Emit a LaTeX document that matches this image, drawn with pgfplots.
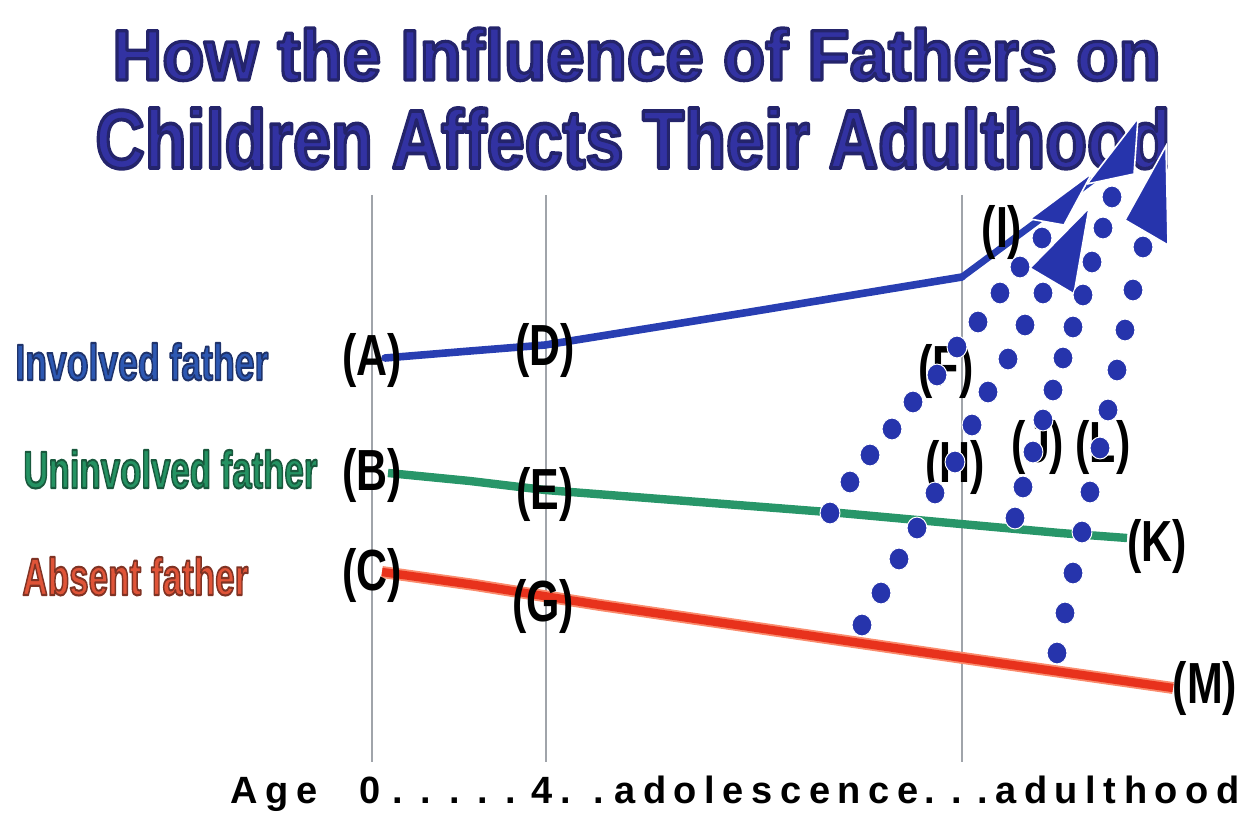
\documentclass[border=0pt]{standalone}
\usepackage{fontspec}
\setmainfont{Liberation Sans}
\newfontfamily\wide{Liberation Sans}[LetterSpace=20]
\usepackage{graphicx}
\usepackage{pgfplots}
\pgfplotsset{compat=1.18}
\newlength\px \setlength\px{0.5bp}
\newcommand\thick[3]{\special{pdf:literal direct 2 Tr #1 w 1 j #2 RG}#3\special{pdf:literal direct 0 Tr}}
\definecolor{titleblue}{RGB}{50,50,162}
\definecolor{lineblue}{RGB}{40,62,178}
\definecolor{dotblue}{RGB}{38,52,172}
\definecolor{linegreen}{RGB}{40,150,105}
\definecolor{linered}{RGB}{232,50,28}
\definecolor{redglow}{RGB}{250,140,110}
\definecolor{labblue}{RGB}{45,88,178}
\definecolor{labgreen}{RGB}{36,146,98}
\definecolor{labred}{RGB}{224,84,56}
\definecolor{vgrey}{RGB}{160,164,170}
\newcommand\lbl[1]{\scalebox{0.74}[1.0]{\fontsize{29bp}{31bp}\selectfont\bfseries(#1)}}
\begin{document}
\begin{tikzpicture}
\begin{axis}[width=628bp,height=406.5bp,scale only axis,
  xmin=0,xmax=1256,ymin=0,ymax=813,y dir=reverse,hide axis,clip=false]
% title
\node[anchor=base west,inner sep=0,text=titleblue] at (axis cs:112,80) {\resizebox{1048\px}{52\px}{\bfseries\thick{0.45}{0.14 0.14 0.42}{How the Influence of Fathers on}}};
\node[anchor=base west,inner sep=0,text=titleblue] at (axis cs:95,168) {\resizebox{1075\px}{60\px}{\bfseries\thick{0.45}{0.14 0.14 0.42}{Children Affects Their Adulthood}}};
% vertical guide lines
\addplot[vgrey,line width=1bp] coordinates {(372,195) (372,762)};
\addplot[vgrey,line width=1bp] coordinates {(546,195) (546,762)};
\addplot[vgrey,line width=1bp] coordinates {(962,195) (962,762)};
% involved father line
\addplot[lineblue,line width=3.8bp,line cap=round] coordinates {(385,358) (470,351) (545,345) (750,312) (962,277)};
\addplot[lineblue,line width=3.4bp] coordinates {(962,277) (1093,180)};
% uninvolved
\addplot[linegreen,line width=4.2bp] coordinates {(388,473) (470,481) (545,490) (840,513) (1060,533) (1127,538)};
% absent
\addplot[redglow,line width=6bp] coordinates {(382,572) (475,585) (600,605) (963,658) (1173,688)};
\addplot[linered,line width=4.2bp] coordinates {(382,572) (475,585) (600,605) (963,658) (1173,688)};
% dotted paths
\pgfplotsset{dotpath/.style={only marks,mark=*,mark size=5pt,color=dotblue,mark options={draw=white,line width=0.5bp,yscale=1.1}}}
\addplot[dotpath] coordinates {
(830,513) (850,482) (870,455) (892,429) (913,402) (937,375) (957,347) (978,322) (1000,293) (1020,267) (1042,238)};
\addplot[dotpath] coordinates {
(862,625) (881,593) (899,559) (917,528) (935,493) (955,462) (972,425) (988,392) (1008,359) (1025,325) (1043,293)};
\addplot[dotpath] coordinates {
(1015,518) (1023,487) (1033,452) (1043,420) (1053,390) (1063,358) (1073,327) (1083,295) (1092,262) (1103,228) (1112,197)};
\addplot[dotpath] coordinates {
(1057,653) (1065,613) (1073,573) (1082,532) (1090,492) (1100,448) (1108,410) (1117,370) (1125,330) (1133,290) (1143,247)};
% arrowheads
\addplot[fill=dotblue,draw=white,line width=0.8bp] coordinates {(1030,219) (1092,173) (1064,225) (1030,219)};
\addplot[fill=dotblue,draw=white,line width=0.8bp] coordinates {(1030,268) (1089,208) (1074,294) (1030,268)};
\addplot[fill=dotblue,draw=white,line width=0.8bp] coordinates {(1125,220) (1166,146) (1168,245) (1125,220)};
\addplot[fill=dotblue,draw=white,line width=0.8bp] coordinates {(1087,184) (1138,118) (1134,174) (1087,184)};
% side labels
\node[anchor=base west,inner sep=0,text=labblue] at (axis cs:15,380) {\resizebox{253\px}{37\px}{\bfseries\thick{0.4}{0.12 0.2 0.42}{Involved father}}};
\node[anchor=base west,inner sep=0,text=labgreen] at (axis cs:23,488) {\resizebox{294\px}{38\px}{\bfseries\thick{0.4}{0.1 0.35 0.24}{Uninvolved father}}};
\node[anchor=base west,inner sep=0,text=labred] at (axis cs:22,595) {\resizebox{226\px}{38\px}{\bfseries\thick{0.4}{0.5 0.2 0.14}{Absent father}}};
% point labels
\node[inner sep=0] at (axis cs:372,361) {\lbl{A}};
\node[inner sep=0] at (axis cs:372,475) {\lbl{B}};
\node[inner sep=0] at (axis cs:372,575) {\lbl{C}};
\node[inner sep=0] at (axis cs:545,351) {\lbl{D}};
\node[inner sep=0] at (axis cs:545,494) {\lbl{E}};
\node[inner sep=0] at (axis cs:543,606) {\lbl{G}};
\node[inner sep=0] at (axis cs:946,372) {\lbl{F}};
\node[inner sep=0] at (axis cs:955,467) {\lbl{H}};
\node[inner sep=0] at (axis cs:1002,233) {\lbl{I}};
\node[inner sep=0] at (axis cs:1038,447) {\lbl{J}};
\node[inner sep=0] at (axis cs:1103,447) {\lbl{L}};
\node[inner sep=0] at (axis cs:1157,546) {\lbl{K}};
\node[inner sep=0] at (axis cs:1205,688) {\lbl{M}};
% bottom axis text
\node[anchor=base west,inner sep=0] at (axis cs:230,803) {\fontsize{19bp}{21bp}\wide\bfseries Age};
\node[anchor=base,inner sep=0] at (axis cs:370,803) {\fontsize{19bp}{21bp}\selectfont\bfseries 0};
\node[anchor=base west,inner sep=0] at (axis cs:392,803) {\fontsize{19bp}{21bp}\selectfont\bfseries\makebox[124\px][s]{.\hfill.\hfill.\hfill.\hfill.}};
\node[anchor=base,inner sep=0] at (axis cs:542,803) {\fontsize{19bp}{21bp}\selectfont\bfseries 4};
\node[anchor=base west,inner sep=0] at (axis cs:560,803) {\fontsize{19bp}{21bp}\selectfont\bfseries\makebox[44\px][s]{.\hfill.}};
\node[anchor=base west,inner sep=0] at (axis cs:614,803) {\fontsize{19bp}{21bp}\wide\bfseries adolescence};
\node[anchor=base west,inner sep=0] at (axis cs:924,803) {\fontsize{19bp}{21bp}\selectfont\bfseries\makebox[64\px][s]{.\hfill.\hfill.}};
\node[anchor=base west,inner sep=0] at (axis cs:995,803) {\fontsize{19bp}{21bp}\wide\bfseries adulthood};
\end{axis}
\pgfresetboundingbox
\path (0,0) rectangle (628bp,406.5bp);
\end{tikzpicture}
\end{document}
